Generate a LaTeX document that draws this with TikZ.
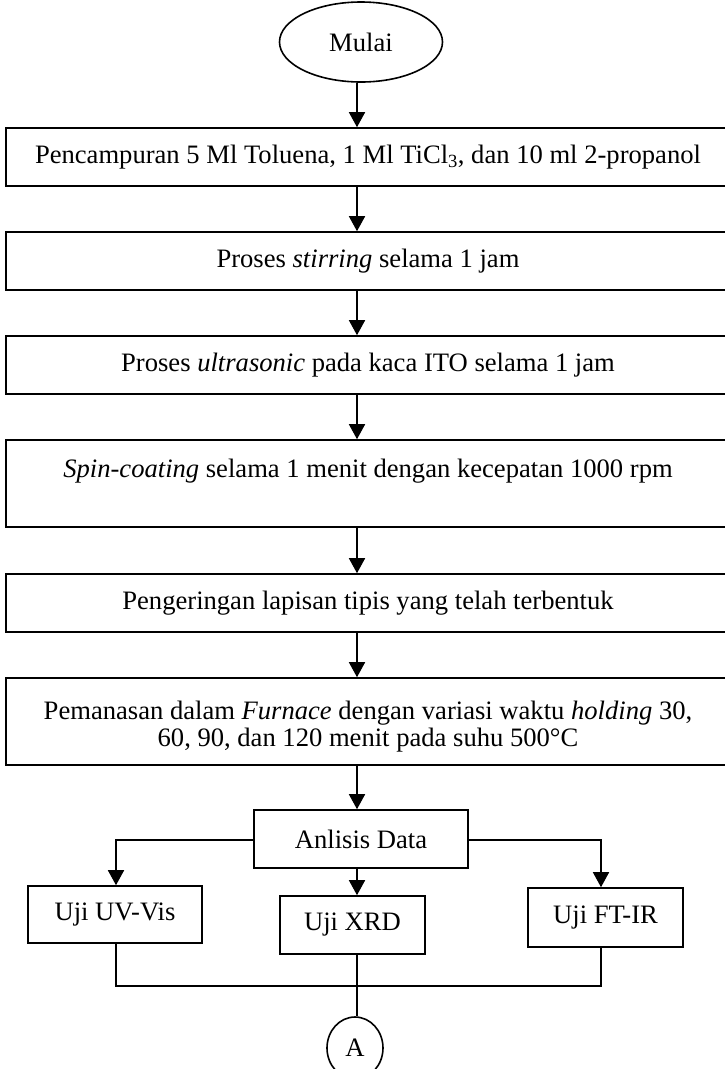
\documentclass[tikz,border=0pt]{standalone}
\usepackage{fontspec}
\setmainfont{Liberation Serif}
\usetikzlibrary{arrows.meta,shapes.geometric}

\tikzset{
  stepbox/.style={draw, line width=1.6pt, rectangle, inner sep=0pt,
    minimum width=724pt, align=center},
  smallbox/.style={draw, line width=1.6pt, rectangle, inner sep=0pt, align=center},
  link/.style={line width=1.6pt},
  arr/.style={line width=1.6pt, -{Triangle[length=15pt,width=16pt]}},
}

\begin{document}
\begin{tikzpicture}[x=1pt, y=-1pt, font=\fontsize{26.6}{30.6}\selectfont]
\useasboundingbox (0,0) rectangle (725,1069);
\clip (0,0) rectangle (725,1069);

% start terminal
\node[ellipse, draw, line width=1.6pt, minimum width=163pt, minimum height=80pt, inner sep=0pt]
  (mulai) at (361,42) {Mulai};

% process steps
\node[stepbox, minimum height=58pt] (b1) at (368,157)
  {Pencampuran 5 Ml Toluena, 1 Ml TiCl\textsubscript{3}, dan 10 ml 2-propanol};
\node[stepbox, minimum height=58pt] (b2) at (368,261)
  {Proses \textit{stirring} selama 1 jam};
\node[stepbox, minimum height=58pt] (b3) at (368,365)
  {Proses \textit{ultrasonic} pada kaca ITO selama 1 jam};
\node[stepbox, minimum height=87pt] (b4) at (368,483.5)
  {\textit{Spin-coating} selama 1 menit dengan kecepatan 1000 rpm\\ ~};
\node[stepbox, minimum height=58pt] (b5) at (368,603)
  {Pengeringan lapisan tipis yang telah terbentuk};
\node[stepbox, minimum height=87pt, font=\fontsize{26.6}{27.5}\selectfont,
      text height=56pt, text depth=6pt] (b6) at (368,721.5)
  {Pemanasan dalam \textit{Furnace} dengan variasi waktu \textit{holding} 30,\\
   60, 90, dan 120 menit pada suhu 500°C};

% analysis and tests
\node[smallbox, minimum width=214pt, minimum height=58pt] (anl) at (361,839) {Anlisis Data};
\node[smallbox, minimum width=174pt, minimum height=57pt] (uv) at (115,914.5) {Uji UV-Vis};
\node[smallbox, minimum width=145pt, minimum height=58pt] (xrd) at (352.5,925) {Uji XRD};
\node[smallbox, minimum width=155pt, minimum height=59pt] (ft) at (605.5,917.5) {Uji FT-IR};

% off-page connector
\node[ellipse, draw, line width=1.6pt, minimum width=56pt, minimum height=62pt, inner sep=0pt]
  (A) at (355,1048) {A};

% routing points
\coordinate (ax) at (357,0);
\coordinate (kL) at (116,840);
\coordinate (kR) at (601,840);
\coordinate (jL) at (116,986);
\coordinate (jR) at (601,986);

% main flow
\draw[arr] (mulai.south -| ax) -- (b1.north -| ax);
\draw[arr] (b1.south -| ax) -- (b2.north -| ax);
\draw[arr] (b2.south -| ax) -- (b3.north -| ax);
\draw[arr] (b3.south -| ax) -- (b4.north -| ax);
\draw[arr] (b4.south -| ax) -- (b5.north -| ax);
\draw[arr] (b5.south -| ax) -- (b6.north -| ax);
\draw[arr] (b6.south -| ax) -- (anl.north -| ax);

% branches to the tests
\draw[arr] (anl.west |- kL) -- (kL) -- (uv.north -| kL);
\draw[arr] (anl.east |- kR) -- (kR) -- (ft.north -| kR);
\draw[arr] (anl.south -| ax) -- (xrd.north -| ax);

% merge to connector A
\draw[link] (uv.south -| jL) -- (jL) -- (jR) -- (ft.south -| jR);
\draw[link] (xrd.south -| ax) -- (A.north -| ax);
\end{tikzpicture}
\end{document}
